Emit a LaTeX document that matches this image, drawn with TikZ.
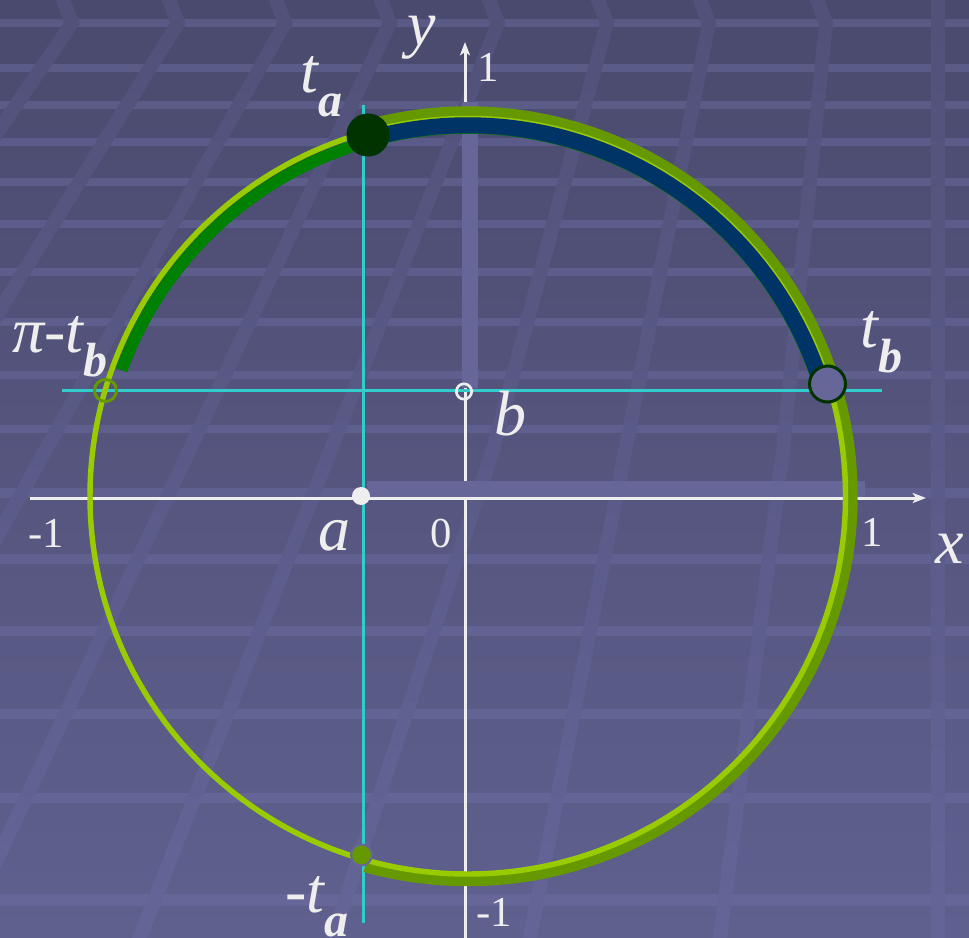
\documentclass[tikz,border=0pt]{standalone}
\usepackage{fontspec}
\setmainfont{Liberation Serif}
\usetikzlibrary{arrows.meta}
\definecolor{bgtop}{HTML}{4A4A6E}
\definecolor{bgbot}{HTML}{60608F}
\definecolor{lntop}{HTML}{51517A}
\definecolor{lnbot}{HTML}{646497}
\definecolor{stripec}{HTML}{7070A8}
\definecolor{txt}{HTML}{EEEEEE}
\definecolor{cyanl}{HTML}{33CCCC}
\definecolor{barc}{HTML}{666699}
\definecolor{olivec}{HTML}{669900}
\definecolor{limec}{HTML}{99CC00}
\definecolor{dgreen}{HTML}{008000}
\definecolor{navyc}{HTML}{003366}
\definecolor{vdgreen}{HTML}{003300}
\newcommand{\mylab}[2]{{\fontsize{48}{48}\selectfont\itshape #1}\raisebox{-18pt}{\fontsize{36}{36}\selectfont\bfseries\itshape #2}}
\begin{document}
\begin{tikzpicture}[x=0.75pt,y=-0.75pt,
  lab/.style={text=txt, inner sep=0pt},
  biglab/.style={lab, font=\fontsize{48}{48}\selectfont\itshape},
  numlab/.style={lab, font=\fontsize{32}{32}\selectfont},
  axisline/.style={draw=txt, line width=2.25pt},
  guide/.style={draw=cyanl, line width=2.25pt},
  barbox/.style={fill=barc},
  bgline/.style={line width=10.5pt, line join=miter},
  dot/.style={circle, inner sep=0pt},
]
\useasboundingbox (0,0) rectangle (969,937);
\shade[top color=bgtop, bottom color=bgbot] (0,0) rectangle (969,937);
% horizontal stripes
\foreach \yy in {23,68,105,142,182,224,272,322,375,429,493,559,631,714,798,900}{
  \pgfmathsetmacro\th{7+\yy*0.0045}
  \fill[stripec, opacity=0.42] (0,\yy-\th/2) rectangle (969,\yy+\th/2);
}
% slanted perspective lines
\foreach \k in {0,...,19}{
  \pgfmathtruncatemacro\pct{100-\k*100/19}
  \begin{scope}
    \clip (-1,\k*46.85-0.3) rectangle (970,\k*46.85+47.2);
    \draw[bgline, draw=lntop!\pct!lnbot]
      (60,-8) -- (72,23) -- (-20,158)
      (166,-8) -- (178,23) -- (-30,358)
      (273,-8) -- (285,23) -- (-30,585)
      (378,-8) -- (390,23) -- (-30,917)
      (486,-8) -- (498,23) -- (140,937) -- (135,950)
      (595,-8) -- (607,23) -- (493,450) -- (333,937) -- (329,950)
      (697,-8) -- (709,23) -- (530,937) -- (527,950)
      (814,-8) -- (826,23) -- (783,450) -- (720,937) -- (718,950)
      (938,-8) -- (938,950);
  \end{scope}
}
% axes
\coordinate (xs) at (30,498);
\coordinate (xe) at (926,498);
\coordinate (ys) at (465,945);
\coordinate (ye) at (465,42);
\draw[axisline, -{Stealth[length=10pt,width=7.5pt,inset=2.5pt]}] (xs) -- (xe);
\draw[axisline, -{Stealth[length=10pt,width=7.5pt,inset=2.5pt]}] (ys) -- (ye);
% projection bars
\fill[barbox] (462,102) rectangle (478,388);
\fill[barbox] (367,481) rectangle (865,497);
% guide lines
\coordinate (gh1) at (62,390);
\coordinate (gh2) at (882,390);
\coordinate (gv1) at (363,105);
\coordinate (gv2) at (363,923);
\draw[guide] (gh1) -- (gh2);
\draw[guide] (gv1) -- (gv2);
% arcs
\def\cx{467.75}
\def\cy{496.25}
\draw[olivec, line width=9pt] plot[domain=-105.5:106, samples=160] ({\cx+384*cos(\x)},{\cy-384*sin(\x)});
\draw[limec, line width=4.1pt] (\cx,\cy) circle[radius=377.75];
\draw[dgreen, line width=9pt] plot[domain=17:160, samples=120] ({\cx+368.5*cos(\x)},{\cy-368.5*sin(\x)});
\draw[navyc, line width=12pt] plot[domain=17.3:105.5, samples=100] ({\cx+371*cos(\x)},{\cy-371*sin(\x)});
% points
\node[dot, fill=vdgreen, minimum size=32.25pt] (ta) at (368,135) {};
\node[dot, fill=barc, draw=vdgreen, line width=2.25pt, minimum size=27pt] (tb) at (827.5,384) {};
\node[dot, draw=olivec, line width=2.25pt, minimum size=16.5pt] (pitb) at (105.5,390.5) {};
\node[dot, fill=olivec, draw=barc, line width=1.5pt, minimum size=15.75pt] (mta) at (361.5,855) {};
\node[dot, fill=txt, minimum size=13.5pt] (pa) at (361,496) {};
\node[dot, draw=txt, line width=2pt, minimum size=11.5pt] (pb) at (464,391.5) {};
% labels
\node[biglab, anchor=base] (ly) at (422,46) {y};
\node[numlab, anchor=base] (l1t) at (488,82) {1};
\node[biglab, anchor=base] (lx) at (950,563) {x};
\node[numlab, anchor=base] (l1r) at (872,546) {1};
\node[numlab, anchor=base] (lm1l) at (46,547) {-1};
\node[numlab, anchor=base] (l0) at (441,547) {0};
\node[numlab, anchor=base] (lm1b) at (494,926) {-1};
\node[biglab, anchor=base] (la) at (334,550) {a};
\node[biglab, anchor=base] (lb) at (510,435) {b};
\node[lab, anchor=base west] (lta) at (300,93) {\mylab{t}{a}};
\node[lab, anchor=base west] (ltb) at (860,348) {\mylab{t}{b}};
\node[lab, anchor=base west] (lpitb) at (12,352) {\mylab{π-t}{b}};
\node[lab, anchor=base west] (lmta) at (285,912) {\mylab{-t}{a}};
\end{tikzpicture}
\end{document}
